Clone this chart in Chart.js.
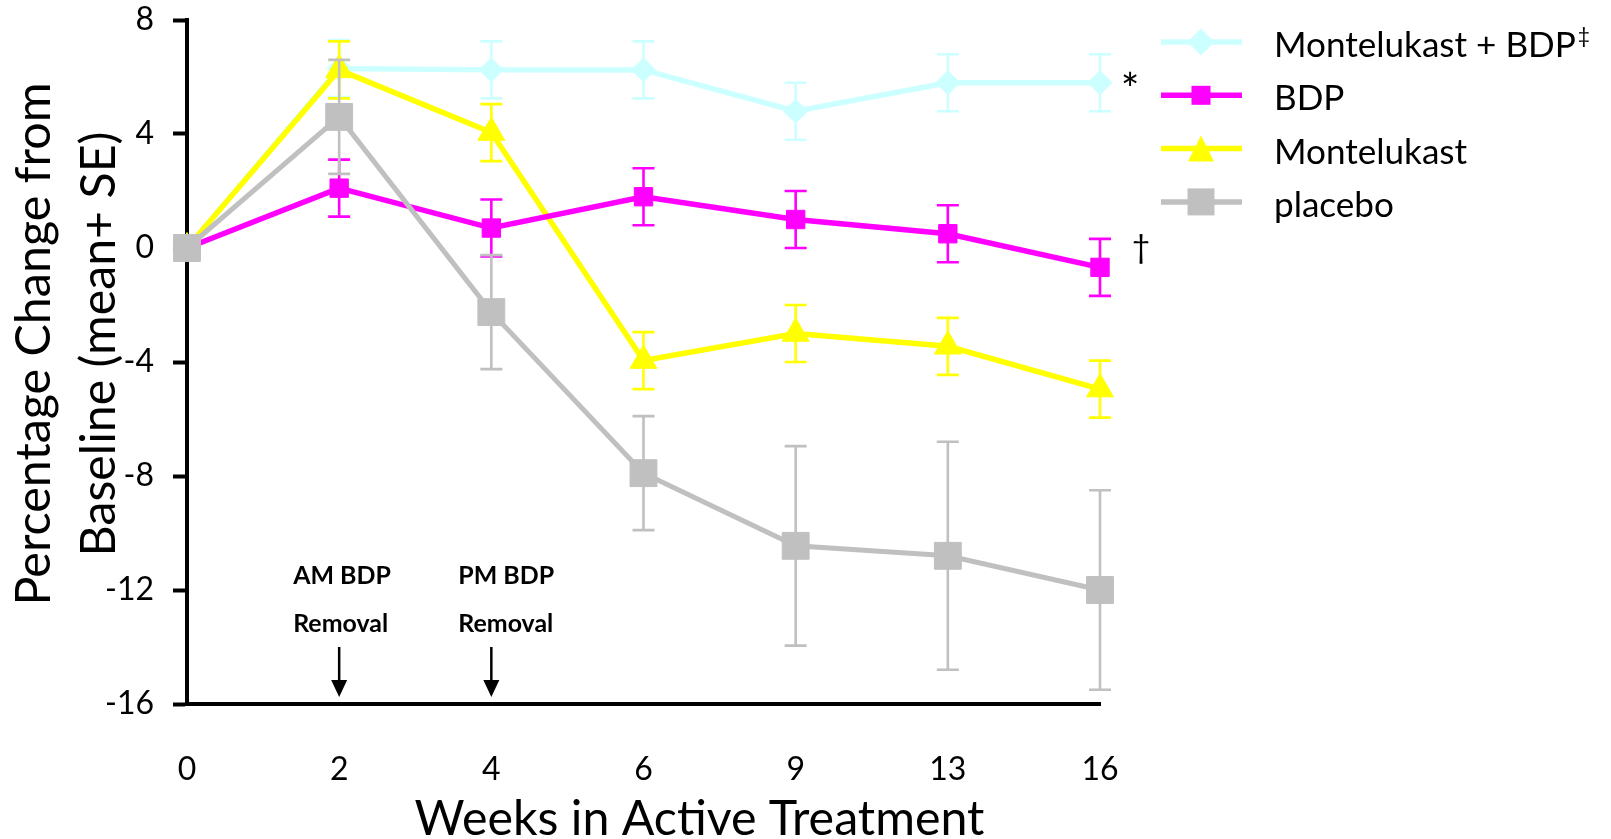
<!DOCTYPE html>
<html><head><meta charset="utf-8">
<script src="https://cdn.jsdelivr.net/npm/chart.js@4.4.1/dist/chart.umd.min.js"></script>
<style>html,body{margin:0;padding:0;background:#fff;overflow:hidden}canvas{display:block}</style>
</head><body>
<canvas id="c" width="1611" height="839"></canvas>
<script>
// ---- data ----
const weeks = ['0', '2', '4', '6', '9', '13', '16'];
const comboMean   = [0, 6.3, 6.25, 6.25, 4.8, 5.8, 5.8];
const comboSE     = [0, 1.0, 1.0, 1.0, 1.0, 1.0, 1.0];
const bdpMean     = [0, 2.1, 0.7, 1.8, 1.0, 0.5, -0.68];
const bdpSE       = [0, 1.0, 1.0, 1.0, 1.0, 1.0, 1.0];
const montMean    = [0, 6.25, 4.05, -3.95, -3.0, -3.45, -4.95];
const montSE      = [0, 1.0, 1.0, 1.0, 1.0, 1.0, 1.0];
const placeboMean = [0, 4.6, -2.25, -7.9, -10.45, -10.8, -12.0];
const placeboSE   = [0, 2.0, 2.0, 2.0, 3.5, 4.0, 3.5];
const yTicks = [-16, -12, -8, -4, 0, 4, 8];
const seriesNames = ['Montelukast + BDP', 'BDP', 'Montelukast', 'placebo'];
const xTitle = 'Weeks in Active Treatment';
const yTitle1 = 'Percentage Change from';
const yTitle2 = 'Baseline (mean+ SE)';
const notes = [{week: '2', l1: 'AM BDP', l2: 'Removal', dx: -46}, {week: '4', l1: 'PM BDP', l2: 'Removal', dx: -33}];

const FAM = 'Lato, "Open Sans", sans-serif';
function fitSize(ctx, text, weight, target) {
  ctx.font = weight + ' 100px ' + FAM;
  return 100 * target / ctx.measureText(text).width;
}

const errorBars = {
  id: 'errorBars',
  beforeDatasetDraw(chart, args) {
    const ds = chart.data.datasets[args.index];
    if (!ds.se) return;
    const ys = chart.scales.y, ctx = chart.ctx;
    ctx.save();
    ctx.strokeStyle = ds.borderColor; ctx.lineWidth = 2.6;
    args.meta.data.forEach((pt, i) => {
      const se = ds.se[i]; if (!se) return;
      const v = ds.data[i];
      const x = pt.x, yt = ys.getPixelForValue(v + se), yb = ys.getPixelForValue(v - se);
      ctx.beginPath();
      ctx.moveTo(x, yt); ctx.lineTo(x, yb);
      ctx.moveTo(x - 11, yt); ctx.lineTo(x + 11, yt);
      ctx.moveTo(x - 11, yb); ctx.lineTo(x + 11, yb);
      ctx.stroke();
    });
    ctx.restore();
  }
};

function drawMarker(ctx, style, x, y, s, color) {
  ctx.fillStyle = color;
  ctx.beginPath();
  if (style === 'rectRot') {
    ctx.moveTo(x, y - s); ctx.lineTo(x + s, y); ctx.lineTo(x, y + s); ctx.lineTo(x - s, y);
  } else if (style === 'rect') {
    ctx.rect(x - s, y - s, 2 * s, 2 * s);
  } else if (style === 'triangle') {
    ctx.moveTo(x, y - s); ctx.lineTo(x + s, y + s); ctx.lineTo(x - s, y + s);
  }
  ctx.closePath(); ctx.fill();
}

const decor = {
  id: 'decor',
  afterDraw(chart) {
    const ctx = chart.ctx, xs = chart.scales.x, ys = chart.scales.y, area = chart.chartArea;
    ctx.save();
    ctx.fillStyle = '#000';
    // x title
    let fs = fitSize(ctx, xTitle, 'normal', 570);
    ctx.font = fs + 'px ' + FAM; ctx.textAlign = 'center'; ctx.textBaseline = 'alphabetic';
    ctx.fillText(xTitle, (area.left + area.right) / 2 + 56, 835);
    // y title
    const cy = 344;
    let f1 = fitSize(ctx, yTitle1, 'normal', 523);
    let f2 = fitSize(ctx, yTitle2, 'normal', 425);
    ctx.save(); ctx.translate(50, cy); ctx.rotate(-Math.PI / 2);
    ctx.font = f1 + 'px ' + FAM; ctx.fillText(yTitle1, 0, 0); ctx.restore();
    ctx.save(); ctx.translate(115, cy); ctx.rotate(-Math.PI / 2);
    ctx.font = f2 + 'px ' + FAM; ctx.fillText(yTitle2, 0, 0); ctx.restore();
    // annotations
    let fb = fitSize(ctx, 'Removal', 'bold', 95);
    ctx.font = 'bold ' + fb + 'px ' + FAM; ctx.textAlign = 'left';
    notes.forEach(n => {
      const x = xs.getPixelForValue(weeks.indexOf(n.week));
      ctx.fillText(n.l1, x + n.dx, 584);
      ctx.fillText(n.l2, x + n.dx, 632);
      ctx.strokeStyle = '#000'; ctx.lineWidth = 2.5;
      ctx.beginPath(); ctx.moveTo(x, 647); ctx.lineTo(x, 684); ctx.stroke();
      ctx.beginPath(); ctx.moveTo(x - 8, 680); ctx.lineTo(x + 8, 680); ctx.lineTo(x, 697); ctx.closePath(); ctx.fill();
    });
    // significance marks
    const x16 = xs.getPixelForValue(weeks.length - 1);
    ctx.font = '44px ' + FAM; ctx.textAlign = 'center'; ctx.textBaseline = 'middle';
    ctx.fillText('*', x16 + 30, ys.getPixelForValue(comboMean[6]) + 8);
    ctx.font = '32px ' + FAM;
    ctx.fillText('\u2020', x16 + 41, ys.getPixelForValue(bdpMean[6]) - 20);
    // legend
    const ls = fitSize(ctx, seriesNames[0], 'normal', 302);
    chart.data.datasets.forEach((ds, i) => {
      const ry = 42 + i * 53.3;
      ctx.strokeStyle = ds.borderColor; ctx.lineWidth = 5.5;
      ctx.beginPath(); ctx.moveTo(1161, ry); ctx.lineTo(1242, ry); ctx.stroke();
      drawMarker(ctx, ds.legendMarker, 1201, ry, ds.legendSize, ds.borderColor);
      ctx.fillStyle = '#000'; ctx.font = ls + 'px ' + FAM; ctx.textAlign = 'left'; ctx.textBaseline = 'alphabetic';
      ctx.fillText(ds.label, 1274, ry + 15);
      if (i === 0) {
        const w = ctx.measureText(ds.label).width;
        ctx.font = (ls * 0.6) + 'px ' + FAM;
        ctx.fillText('\u2021', 1274 + w + 2, ry + 1);
      }
    });
    ctx.restore();
  }
};

function mk(label, data, se, color, style, r, lw, order, legendMarker, legendSize) {
  return {
    label, data, se, borderColor: color, backgroundColor: color,
    borderWidth: lw, pointStyle: style, pointRadius: r, pointHoverRadius: r,
    pointBackgroundColor: color, pointBorderColor: color, pointBorderWidth: 1,
    tension: 0, clip: false, order, legendMarker, legendSize
  };
}

new Chart(document.getElementById('c'), {
  type: 'line',
  data: {
    labels: weeks,
    datasets: [
      mk(seriesNames[0], comboMean, comboSE, '#CCFFFF', 'rectRot', 12, 5.5, 3, 'rectRot', 13.5),
      mk(seriesNames[1], bdpMean, bdpSE, '#FF00FF', 'rect', 13, 5.5, 1, 'rect', 9.5),
      mk(seriesNames[2], montMean, montSE, '#FFFF00', 'triangle', 15.5, 5.5, 2, 'triangle', 13),
      mk(seriesNames[3], placeboMean, placeboSE, '#C0C0C0', 'rect', 19, 5, 0, 'rect', 13.5)
    ]
  },
  options: {
    responsive: false, animation: false, devicePixelRatio: 1,
    layout: { padding: { top: 20, right: 511, left: 0, bottom: 0 } },
    plugins: { legend: { display: false }, tooltip: { enabled: false } },
    scales: {
      x: {
        type: 'category', offset: false,
        afterFit(s) { s.height = 135; s.paddingLeft = 0; s.paddingRight = 0; },
        grid: { display: true, drawOnChartArea: false, drawTicks: false },
        border: { display: true, color: '#000', width: 4 },
        ticks: { color: '#000', font: { family: FAM, size: 32, lineHeight: 1 }, padding: 50, maxRotation: 0, autoSkip: false }
      },
      y: {
        min: -16, max: 8,
        afterFit(s) { s.width = 187; s.paddingTop = 0; s.paddingBottom = 0; },
        afterBuildTicks(s) { s.ticks = yTicks.map(v => ({ value: v })); },
        grid: { display: true, drawOnChartArea: false, drawTicks: true, tickLength: 14, tickWidth: 4, tickColor: '#000', color: '#000' },
        border: { display: true, color: '#000', width: 4 },
        ticks: { color: '#000', font: { family: FAM, size: 32, lineHeight: 1 }, padding: 19 }
      }
    }
  },
  plugins: [errorBars, decor]
});
</script>
</body></html>
